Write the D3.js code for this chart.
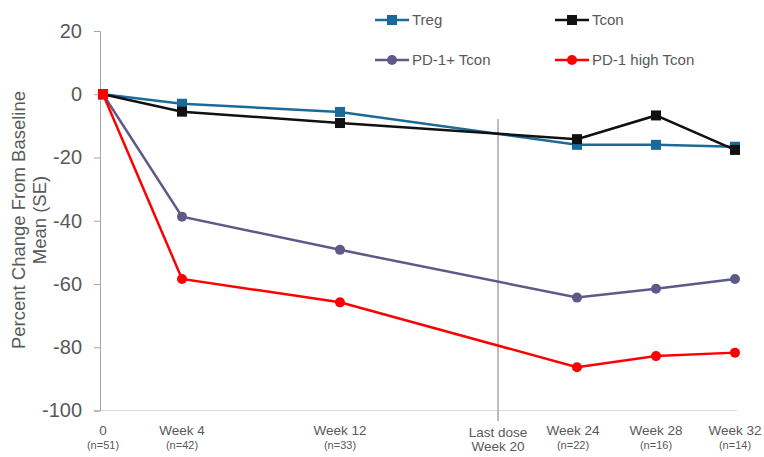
<!DOCTYPE html>
<html>
<head>
<meta charset="utf-8">
<script src="https://cdn.jsdelivr.net/npm/d3@7"></script>
<style>
  body { margin: 0; background: #fff; }
  text { font-family: "Liberation Sans", Arial, sans-serif; }
</style>
</head>
<body>
<div id="chart"></div>
<script>
// DATA
const weeks = [0, 4, 12, 24, 28, 32];
const weekLabels = ["0", "Week 4", "Week 12", "Week 24", "Week 28", "Week 32"];
const nLabels = ["(n=51)", "(n=42)", "(n=33)", "(n=22)", "(n=16)", "(n=14)"];
const treg = [0, -3.0, -5.6, -16.0, -16.0, -16.6];
const tcon = [0, -5.5, -9.1, -14.2, -6.7, -17.6];
const pd1Tcon = [0, -38.7, -49.2, -64.3, -61.5, -58.4];
const pd1HighTcon = [0, -58.4, -65.8, -86.3, -82.8, -81.7];
const yTicks = [20, 0, -20, -40, -60, -80, -100];
const lastDoseWeek = 20;

const series = [
  { name: "Treg", values: treg, color: "#1a6b9a", shape: "square" },
  { name: "Tcon", values: tcon, color: "#111111", shape: "square" },
  { name: "PD-1+ Tcon", values: pd1Tcon, color: "#5d5a88", shape: "circle" },
  { name: "PD-1 high Tcon", values: pd1HighTcon, color: "#ff0000", shape: "circle" }
];

const WIDTH = 764, HEIGHT = 457;

// CANVAS
const svg = d3
  .select("#chart")
  .append("svg")
  .attr("width", WIDTH)
  .attr("height", HEIGHT);

// SCALE
const x = d3.scaleLinear().domain([0, 32]).range([103, 735]);
const y = d3.scaleLinear().domain([-100, 20]).range([410.5, 31]);

// AXIS
svg
  .append("line")
  .attr("x1", 100)
  .attr("x2", 737)
  .attr("y1", y(-100))
  .attr("y2", y(-100))
  .attr("stroke", "#d9d9d9")
  .attr("stroke-width", 1);

svg
  .append("g")
  .attr("transform", "translate(100, 0)")
  .call(
    d3.axisLeft(y)
      .tickValues(yTicks)
      .tickSize(6)
      .tickPadding(12)
      .tickFormat((d) => String(d)) // plain hyphen, not unicode minus
  )
  .call((g) => {
    g.select(".domain").attr("stroke", "#a6a6a6");
    g.selectAll(".tick line").attr("stroke", "#a6a6a6");
    g.selectAll(".tick text")
      .attr("font-size", "20px")
      .attr("font-family", "Liberation Sans, Arial, sans-serif")
      .attr("fill", "#595959");
  });

// Y LABEL
const yLabel = svg
  .append("text")
  .attr("transform", "translate(19, 220) rotate(-90)")
  .attr("text-anchor", "middle")
  .attr("font-size", "18.5px")
  .attr("fill", "#595959");
yLabel.append("tspan").attr("x", 0).attr("dy", "0.35em").text("Percent Change From Baseline");
yLabel.append("tspan").attr("x", 0).attr("dy", "1.1em").text("Mean (SE)");

// X LABELS
const xLabels = svg.append("g").attr("fill", "#595959").attr("text-anchor", "middle");
weeks.forEach((w, i) => {
  xLabels
    .append("text")
    .attr("x", x(w) - (i === 3 ? 4 : 0))
    .attr("y", 435)
    .attr("font-family", "Lato, 'Open Sans', sans-serif")
    .attr("font-size", "13.5px")
    .text(weekLabels[i]);
  xLabels
    .append("text")
    .attr("x", x(w) - (i === 3 ? 4 : 0))
    .attr("y", 449)
    .attr("font-family", "Lato, 'Open Sans', sans-serif")
    .attr("font-size", "11px")
    .text(nLabels[i]);
});

// LAST DOSE LINE
svg
  .append("line")
  .attr("x1", x(lastDoseWeek))
  .attr("x2", x(lastDoseWeek))
  .attr("y1", 119)
  .attr("y2", 421)
  .attr("stroke", "#bdbdbd")
  .attr("stroke-width", 2);
xLabels
  .append("text")
  .attr("x", x(lastDoseWeek))
  .attr("y", 437)
  .attr("font-family", "Lato, 'Open Sans', sans-serif")
  .attr("font-size", "13.5px")
  .text("Last dose");
xLabels
  .append("text")
  .attr("x", x(lastDoseWeek))
  .attr("y", 451)
  .attr("font-family", "Lato, 'Open Sans', sans-serif")
  .attr("font-size", "13.5px")
  .text("Week 20");

// LINES
const line = d3
  .line()
  .x((d, i) => x(weeks[i]))
  .y((d) => y(d));

function drawMarker(g, shape, cx, cy, color) {
  if (shape === "square") {
    g.append("rect")
      .attr("x", cx - 5)
      .attr("y", cy - 5)
      .attr("width", 10)
      .attr("height", 10)
      .attr("fill", color);
  } else {
    g.append("circle").attr("cx", cx).attr("cy", cy).attr("r", 5).attr("fill", color);
  }
}

series.forEach((s) => {
  const g = svg.append("g");
  g.append("path")
    .datum(s.values)
    .attr("d", line)
    .attr("fill", "none")
    .attr("stroke", s.color)
    .attr("stroke-width", 2.5);
  s.values.forEach((v, i) => {
    // baseline point shows as a square in the original
    const shape = i === 0 ? "square" : s.shape;
    drawMarker(g, shape, x(weeks[i]), y(v), s.color);
  });
});

// LEGEND
const legendPos = [
  [375, 20],
  [555, 20],
  [375, 60],
  [555, 60]
];
series.forEach((s, i) => {
  const [lx, ly] = legendPos[i];
  const g = svg.append("g");
  g.append("line")
    .attr("x1", lx)
    .attr("x2", lx + 34)
    .attr("y1", ly)
    .attr("y2", ly)
    .attr("stroke", s.color)
    .attr("stroke-width", 2.5);
  drawMarker(g, s.shape, lx + 17, ly, s.color);
  g.append("text")
    .attr("x", lx + 37)
    .attr("y", ly)
    .attr("dy", "0.35em")
    .attr("font-size", "15px")
    .attr("fill", "#595959")
    .text(s.name);
});
</script>
</body>
</html>
